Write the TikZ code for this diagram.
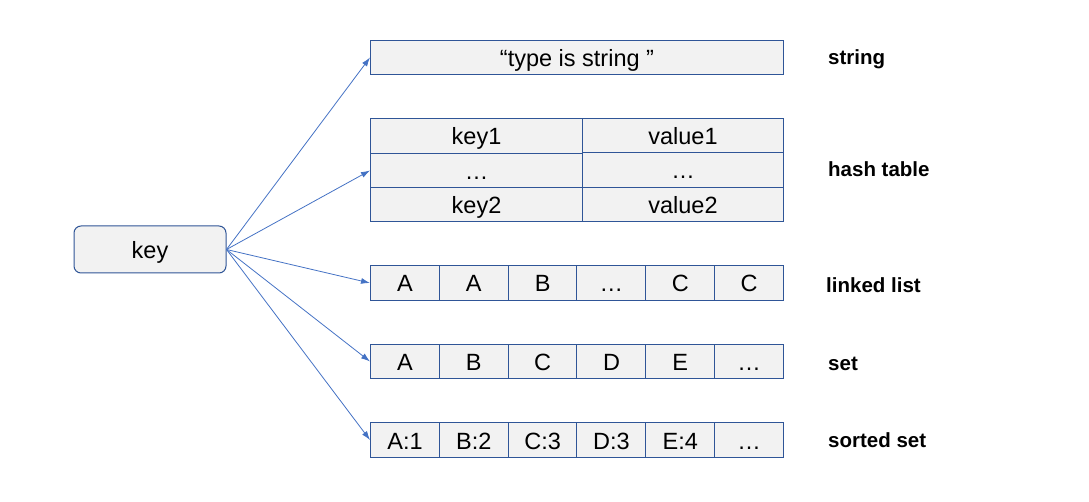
\documentclass[tikz,border=0pt]{standalone}
\usepackage{fontspec}
\setmainfont{Liberation Sans}
\usetikzlibrary{arrows.meta}
\definecolor{edgeblue}{HTML}{2F5597}
\definecolor{cellgray}{HTML}{F2F2F2}
\definecolor{linkblue}{HTML}{4472C4}
\tikzset{
  cell/.style={draw=edgeblue,fill=cellgray,line width=1pt,inner sep=0pt,
    anchor=north west,text height=18pt,text depth=0pt,
    font=\fontsize{23.5}{26}\selectfont},
  tag/.style={anchor=west,inner sep=0pt,text height=15pt,text depth=0pt,
    font=\bfseries\fontsize{20.5}{22}\selectfont},
  link/.style={draw=linkblue,line width=0.8pt,-{Latex[length=9pt,width=6pt]}}
}
\begin{document}
\begin{tikzpicture}[x=1pt,y=-1pt]
\useasboundingbox (0,0) rectangle (1089,502);
% the key
\node[cell,anchor=center,rounded corners=7pt,minimum width=152pt,minimum height=47pt] (key) at (150,249.5) {key};
% string
\node[cell,minimum width=413pt,minimum height=34pt] (str) at (370,40) {“type is string ”};
% hash table
\node[cell,minimum width=212pt,minimum height=35pt] (hk1) at (370,118) {key1};
\node[cell,minimum width=212pt,minimum height=34pt] (hk2) at (370,153) {…};
\node[cell,minimum width=212pt,minimum height=34pt] (hk3) at (370,187) {key2};
\node[cell,minimum width=201pt,minimum height=34pt] (hv1) at (582,118) {value1};
\node[cell,minimum width=201pt,minimum height=35pt] (hv2) at (582,152) {…};
\node[cell,minimum width=201pt,minimum height=34pt] (hv3) at (582,187) {value2};
% linked list, set, sorted set
\foreach \t [count=\i from 0] in {A,A,B,…,C,C}
  \node[cell,minimum width=69pt,minimum height=35pt] (ll\i) at ({370+68.83*\i},265) {\t};
\foreach \t [count=\i from 0] in {A,B,C,D,E,…}
  \node[cell,minimum width=69pt,minimum height=34pt] (st\i) at ({370+68.83*\i},344) {\t};
\foreach \t [count=\i from 0] in {A:1,B:2,C:3,D:3,E:4,…}
  \node[cell,minimum width=69pt,minimum height=35pt] (zs\i) at ({370+68.83*\i},422) {\t};
% type names
\node[tag] (tstr) at (828,57) {string};
\node[tag] (thash) at (828,169) {hash table};
\node[tag] (tll) at (826,285) {linked list};
\node[tag] (tset) at (828,363) {set};
\node[tag] (tzs) at (828,440) {sorted set};
% pointers
\draw[link] (key.east) -- (str.west);
\draw[link] (key.east) -- (hk2.west);
\draw[link] (key.east) -- (ll0.west);
\draw[link] (key.east) -- (st0.west);
\draw[link] (key.east) -- (zs0.west);
\end{tikzpicture}
\end{document}
